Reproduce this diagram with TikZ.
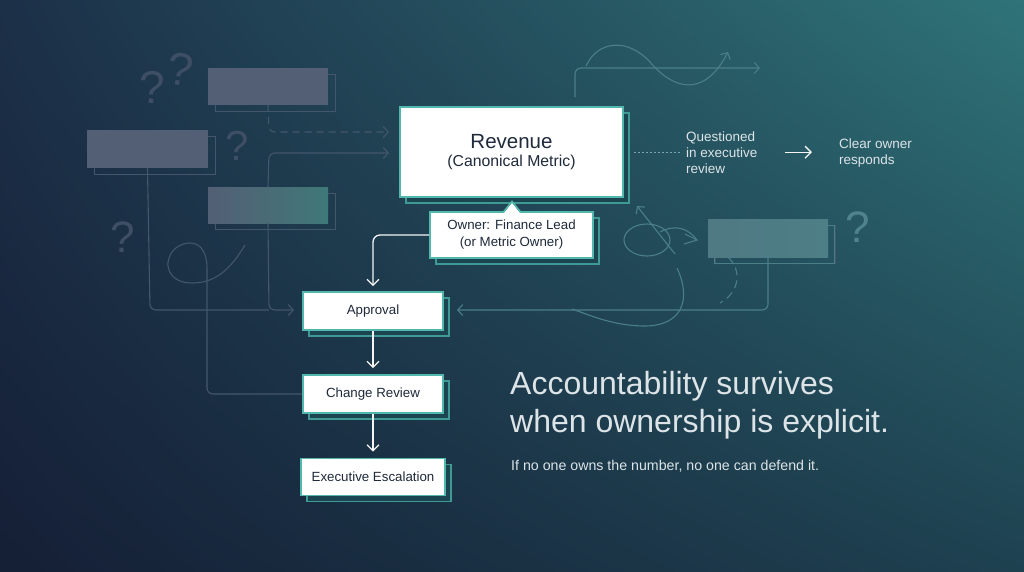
\documentclass[tikz,border=0pt]{standalone}
\usepackage{fontspec}
\setmainfont{Liberation Sans}
\usetikzlibrary{arrows.meta,shadows,calc,shadings}
\definecolor{bgUL}{HTML}{1C3048}
\definecolor{bgUR}{HTML}{2F7478}
\definecolor{bgLL}{HTML}{151F36}
\definecolor{bgLR}{HTML}{1E4150}
\definecolor{boxteal}{HTML}{52B8AE}
\definecolor{shadowteal}{HTML}{3E9A92}
\definecolor{shadowfill}{HTML}{1B4550}
\definecolor{textdark}{HTML}{1F2A3A}
\definecolor{lighttext}{HTML}{DCE4E8}
\definecolor{ghostgray}{HTML}{535F75}
\definecolor{ghostteal}{HTML}{3F7878}
\definecolor{ghostteal2}{HTML}{4E7E86}
\definecolor{faintL}{HTML}{44566C}
\definecolor{faintR}{HTML}{4A7F88}
\definecolor{qmarkL}{HTML}{3E4E64}
\definecolor{qmarkR}{HTML}{4F838B}
\tikzset{
  mainbox/.style={draw=boxteal, line width=1.6pt, fill=white, text=textdark, inner sep=0pt, align=center,
    general shadow={shadow xshift=6pt, shadow yshift=-6pt, fill=shadowfill, draw=shadowteal, line width=1.1pt}},
  ghostbox/.style={fill=ghostgray, draw=none, inner sep=0pt,
    general shadow={shadow xshift=7pt, shadow yshift=-6pt, fill=none, draw=faintL, line width=1pt}},
  flow/.style={draw=white!92!gray, line width=1.3pt, -{Straight Barb[length=6pt,width=12pt]}},
  faintline/.style={draw=faintL, line width=1.1pt},
  faintarrow/.style={faintline, -{Straight Barb[length=5pt,width=11pt]}},
  faintlineR/.style={draw=faintR, line width=1.1pt},
  faintarrowR/.style={faintlineR, -{Straight Barb[length=5pt,width=11pt]}},
  qmark/.style={text=qmarkL, font=\fontsize{46}{48}\selectfont, inner sep=0pt},
  side/.style={text=lighttext, font=\fontsize{13.5}{16}\selectfont, align=left, inner sep=0pt, anchor=base west},
}
\begin{document}
\begin{tikzpicture}[x=1pt,y=-1pt]
\useasboundingbox (0,0) rectangle (1024,571);
\shade[upper left=bgUL, upper right=bgUR, lower left=bgLL, lower right=bgLR] (0,0) rectangle (1024,571);

% ---- ghost question marks
\node[qmark] (q1) at (152,87) {?};
\node[qmark, rotate=-8] (q2) at (180,69) {?};
\node[qmark, font=\fontsize{42}{44}\selectfont] (q3) at (237,146) {?};
\node[qmark, font=\fontsize{44}{46}\selectfont] (q4) at (123,237) {?};
\node[qmark, text=qmarkR, font=\fontsize{44}{46}\selectfont] (q5) at (858,227) {?};

% ---- ghost boxes
\node[ghostbox, minimum width=120pt, minimum height=37pt] (g1) at (268,86.5) {};
\node[ghostbox, minimum width=121pt, minimum height=38pt] (g2) at (147.5,149) {};
\node[ghostbox, left color=ghostgray, right color=ghostteal, minimum width=120pt, minimum height=36pt] (g3) at (268,205) {};
\node[ghostbox, left color=ghostteal2!85!ghostgray, right color=ghostteal2, minimum width=120pt, minimum height=38pt,
  general shadow={shadow xshift=6pt, shadow yshift=-6pt, fill=none, draw=faintR, line width=1pt}] (g4) at (768,238) {};

% ---- main nodes
\node[mainbox, minimum width=223pt, minimum height=90pt, font=\fontsize{15.8}{18.5}\selectfont] (rev) at (511.5,152)
  {{\fontsize{20.5}{22}\selectfont Revenue}\\(Canonical Metric)};
\node[mainbox, minimum width=163pt, minimum height=46pt, font=\fontsize{13.3}{17}\selectfont] (own) at (511.5,235)
  {Owner: Finance Lead\\(or Metric Owner)};
\fill[white] (503,214.2) -- (512,202.6) -- (521,214.2) -- cycle;
\draw[boxteal, line width=1.6pt, line join=miter] (503.5,212) -- (512,201.5) -- (520.5,212);

\node[mainbox, minimum width=140pt, minimum height=38pt, font=\fontsize{13.3}{16}\selectfont] (appr) at (373,311) {Approval};
\node[mainbox, minimum width=140pt, minimum height=38pt, font=\fontsize{13.3}{16}\selectfont] (chg) at (373,394) {Change Review};
\node[mainbox, minimum width=144pt, minimum height=37pt, font=\fontsize{13.3}{16}\selectfont] (esc) at (373,477) {Executive Escalation};

% ---- faint background connectors (left)
\draw[faintarrow, dashed, dash pattern=on 7pt off 5pt, rounded corners=6pt] (g1.south) -- (269,132) -- (389,132);
\draw[faintarrow, rounded corners=6pt] (g3.north) -- (269,153) -- (389,153);
\draw[faintarrow, rounded corners=6pt] (g3.south) -- (269,310) -- (294,310);
\draw[faintline, rounded corners=6pt] (g2.south) -- (150,310) -- (269,310);
\draw[faintline] (245,245) .. controls (230,270) and (215,283) .. (192,283)
  .. controls (172,283) and (167,270) .. (168,262) .. controls (170,249) and (181,243) .. (190,243)
  .. controls (201,243) and (207,253) .. (207,268);
\draw[faintline, rounded corners=6pt] (207,268) -- (207,394) -- (chg.west);

% ---- faint background connectors (top right)
\draw[faintarrowR, rounded corners=6pt] (575,97) -- (575,68) -- (760,68);
\draw[faintarrowR] (586,66) .. controls (598,40) and (628,38) .. (650,62)
  .. controls (672,88) and (703,100) .. (728,52);

% ---- faint background connectors (right)
\draw[faintarrowR, rounded corners=6pt] (g4.south) -- (768,310) -- (457,310);
\draw[faintlineR] (647,240) ellipse [x radius=23, y radius=16];
\draw[faintarrowR] (675,254) -- (637,206);
\draw[faintlineR] (660,232) .. controls (675,224) and (688,228) .. (697,240);
\draw[faintlineR] (685,234) -- (697,240) -- (684,244);
\draw[faintlineR] (677,268) .. controls (692,300) and (682,327) .. (642,326)
  .. controls (612,325) and (592,316) .. (572,309);
\draw[faintlineR, dashed, dash pattern=on 8pt off 5pt] (728,257) .. controls (742,270) and (740,292) .. (720,303);

% ---- main flow
\draw[flow, rounded corners=7pt] (own.west) -| ($(appr.north)+(0,-5)$);
\draw[flow, shorten >=6pt] (appr) -- (chg);
\draw[flow, shorten >=6pt] (chg) -- (esc);

% ---- right side text (base anchor = last line)
\node[side] (qt) at (686,173) {Questioned\\in executive\\review};
\node[side] (co) at (839,164.5) {Clear owner\\responds};
\draw[draw=faintR!70!white, line width=0.9pt, dash pattern=on 2pt off 2pt, shorten <=10pt, shorten >=5pt] (rev.east) -- (rev.east -| qt.west);
\draw[flow, shorten <=27pt, shorten >=27pt] (qt.east) -- (qt.east -| co.west);

% ---- headline
\node[text=lighttext, font=\fontsize{32}{37.5}\selectfont, align=left, inner sep=0pt, anchor=base west] (head) at (510,432)
  {Accountability survives\\when ownership is explicit.};
\node[text=lighttext, font=\fontsize{14.2}{17}\selectfont, inner sep=0pt, anchor=base west] (sub) at (511,470)
  {If no one owns the number, no one can defend it.};
\end{tikzpicture}
\end{document}
